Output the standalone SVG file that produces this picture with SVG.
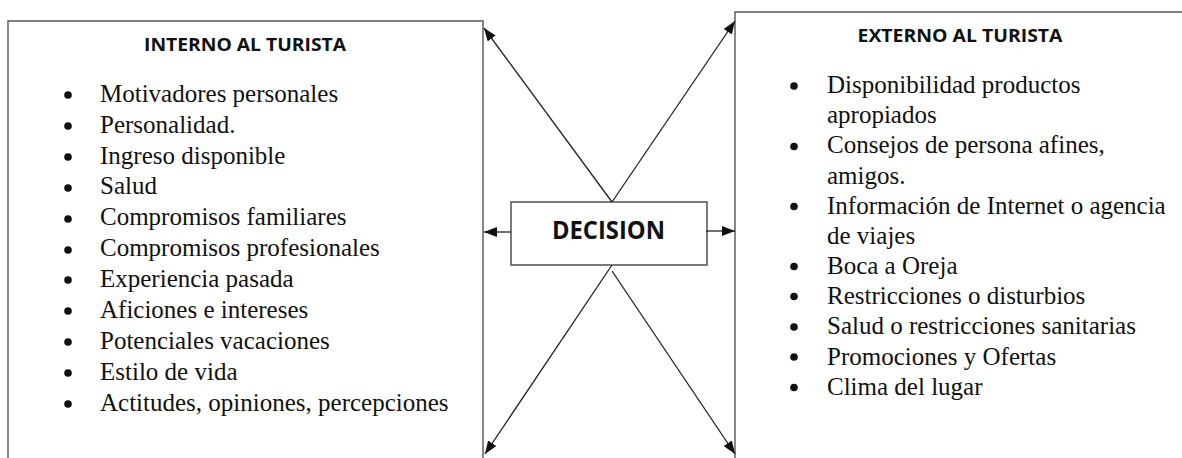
<svg xmlns="http://www.w3.org/2000/svg" width="1182" height="458" viewBox="0 0 1182 458">
<style>
.box{fill:none;stroke:#555;stroke-width:1.4}
.dec{fill:#fff;stroke:#444;stroke-width:1.4}
.hd{font-family:"Open Sans","Liberation Sans",sans-serif;font-weight:bold;font-size:18.5px;fill:#111}
.dt{font-family:"Open Sans","Liberation Sans",sans-serif;font-weight:bold;font-size:25px;fill:#111}
.it{font-family:"Liberation Serif","Times New Roman",serif;font-size:25px;fill:#111}
.bl{fill:#111}
.cn{stroke:#222;stroke-width:1.3;fill:none;marker-end:url(#ah)}
</style>
<defs>
<marker id="ah" markerUnits="userSpaceOnUse" markerWidth="14" markerHeight="12" refX="13" refY="5" orient="auto">
<path d="M0,0 L13,5 L0,10 z" fill="#111"/>
</marker>
</defs>
<g id="interno">
<path class="box" d="M8,458 V21 H483 V458"/>
<text class="hd" x="245" y="51" text-anchor="middle" textLength="202" lengthAdjust="spacingAndGlyphs">INTERNO AL TURISTA</text>
<g class="bl">
<circle cx="68" cy="95" r="3.8"/><circle cx="68" cy="126" r="3.8"/><circle cx="68" cy="157" r="3.8"/><circle cx="68" cy="188" r="3.8"/><circle cx="68" cy="219" r="3.8"/><circle cx="68" cy="250" r="3.8"/><circle cx="68" cy="280" r="3.8"/><circle cx="68" cy="311" r="3.8"/><circle cx="68" cy="342" r="3.8"/><circle cx="68" cy="373" r="3.8"/><circle cx="68" cy="404" r="3.8"/>
</g>
<g class="it">
<text x="100" y="101.7">Motivadores personales</text>
<text x="100" y="132.6">Personalidad.</text>
<text x="100" y="163.5">Ingreso disponible</text>
<text x="100" y="194.4">Salud</text>
<text x="100" y="225.3">Compromisos familiares</text>
<text x="100" y="256.2">Compromisos profesionales</text>
<text x="100" y="287.1">Experiencia pasada</text>
<text x="100" y="318">Aficiones e intereses</text>
<text x="100" y="348.9">Potenciales vacaciones</text>
<text x="100" y="379.8">Estilo de vida</text>
<text x="100" y="410.7">Actitudes, opiniones, percepciones</text>
</g>
</g>
<g id="externo">
<path class="box" d="M735,458 V12 H1182"/>
<text class="hd" x="960" y="41.5" text-anchor="middle" textLength="205" lengthAdjust="spacingAndGlyphs">EXTERNO AL TURISTA</text>
<g class="bl">
<circle cx="794" cy="86" r="3.8"/><circle cx="794" cy="146.5" r="3.8"/><circle cx="794" cy="206.5" r="3.8"/><circle cx="794" cy="266.5" r="3.8"/><circle cx="794" cy="296.5" r="3.8"/><circle cx="794" cy="327" r="3.8"/><circle cx="794" cy="357" r="3.8"/><circle cx="794" cy="387.5" r="3.8"/>
</g>
<g class="it">
<text x="827" y="93">Disponibilidad productos</text>
<text x="827" y="123.2">apropiados</text>
<text x="827" y="153.4">Consejos de persona afines,</text>
<text x="827" y="183.6">amigos.</text>
<text x="827" y="213.8">Información de Internet o agencia</text>
<text x="827" y="244">de viajes</text>
<text x="827" y="273.5">Boca a Oreja</text>
<text x="827" y="303.7">Restricciones o disturbios</text>
<text x="827" y="334">Salud o restricciones sanitarias</text>
<text x="827" y="364.5">Promociones y Ofertas</text>
<text x="827" y="395">Clima del lugar</text>
</g>
</g>
<g id="decision">
<rect class="dec" x="511" y="202" width="196" height="63"/>
<text class="dt" x="608.5" y="239" text-anchor="middle" textLength="113" lengthAdjust="spacingAndGlyphs">DECISION</text>
</g>
<g id="connectors">
<line class="cn" x1="612" y1="202" x2="484" y2="28"/>
<line class="cn" x1="612" y1="202" x2="735" y2="21"/>
<line class="cn" x1="511" y1="232" x2="484" y2="232"/>
<line class="cn" x1="706" y1="231" x2="735" y2="231"/>
<line class="cn" x1="612" y1="265" x2="485" y2="454"/>
<line class="cn" x1="612" y1="271" x2="735" y2="454"/>
</g>
</svg>
